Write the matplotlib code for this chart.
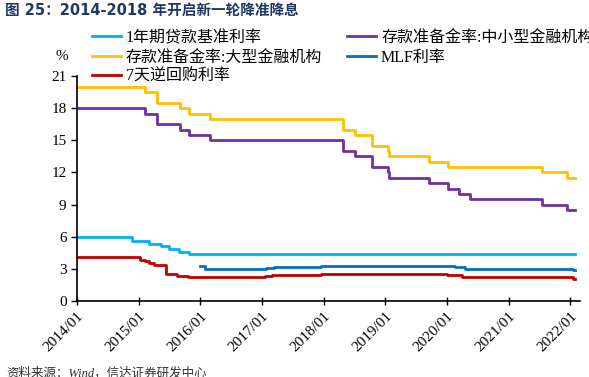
import numpy as np
import pandas as pd
import matplotlib
matplotlib.use("Agg")
import matplotlib.pyplot as plt
import matplotlib.dates as mdates

plt.rcParams['font.family'] = ['Liberation Serif', 'Noto Sans CJK SC']
plt.rcParams['axes.unicode_minus'] = False

END = "2022-02-01"

loan_dates = ["2014-01-01", "2014-11-22", "2015-03-01", "2015-05-11", "2015-06-28",
              "2015-08-26", "2015-10-24", END]
loan_vals = [6.00, 5.60, 5.35, 5.10, 4.85, 4.60, 4.35, 4.35]

big_dates = ["2014-01-01", "2015-02-05", "2015-04-20", "2015-09-06", "2015-10-24",
             "2016-03-01", "2018-04-25", "2018-07-05", "2018-10-15", "2019-01-15",
             "2019-01-25", "2019-09-16", "2020-01-06", "2021-07-15", "2021-12-15", END]
big_vals = [20.0, 19.5, 18.5, 18.0, 17.5, 17.0, 16.0, 15.5, 14.5, 14.0,
            13.5, 13.0, 12.5, 12.0, 11.5, 11.5]

small_dates = ["2014-01-01", "2015-02-05", "2015-04-20", "2015-09-06", "2015-10-24",
               "2016-03-01", "2018-04-25", "2018-07-05", "2018-10-15", "2019-01-15",
               "2019-01-25", "2019-09-16", "2020-01-06", "2020-03-16", "2020-05-15",
               "2021-07-15", "2021-12-15", END]
small_vals = [18.0, 17.5, 16.5, 16.0, 15.5, 15.0, 14.0, 13.5, 12.5, 12.0,
              11.5, 11.0, 10.5, 10.0, 9.5, 9.0, 8.5, 8.5]

repo_dates = ["2014-01-01", "2015-01-10", "2015-02-10", "2015-03-05", "2015-04-01",
              "2015-06-10", "2015-08-15", "2015-10-20", "2017-01-20", "2017-03-01",
              "2017-12-15", "2018-03-05", "2019-11-18", "2020-01-05", "2020-03-30",
              "2022-01-17", END]
repo_vals = [4.10, 3.85, 3.75, 3.55, 3.35, 2.50, 2.35, 2.25, 2.35, 2.45,
             2.50, 2.55, 2.50, 2.40, 2.20, 2.10, 2.10]

mlf_dates = ["2016-01-01", "2016-02-01", "2017-01-24", "2017-03-16", "2017-12-14",
             "2018-03-22", "2019-11-05", "2020-02-17", "2020-04-15", "2022-01-17", END]
mlf_vals = [3.25, 3.00, 3.10, 3.20, 3.25, 3.30, 3.25, 3.15, 2.95, 2.85, 2.85]

series = [
    ("1年期贷款基准利率", loan_dates, loan_vals, "#00B0F0"),
    ("存款准备金率:大型金融机构", big_dates, big_vals, "#FFC000"),
    ("7天逆回购利率", repo_dates, repo_vals, "#C00000"),
    ("存款准备金率:中小型金融机构", small_dates, small_vals, "#7030A0"),
    ("MLF利率", mlf_dates, mlf_vals, "#0070C0"),
]

fig = plt.figure(figsize=(5.89, 3.77), dpi=100)
ax = fig.add_axes([77 / 589, 1 - 301 / 377, (580 - 77) / 589, (301 - 76) / 377])

handles = []
for name, d, v, c in series:
    ln, = ax.plot(pd.to_datetime(d), v, color=c, lw=2.0, drawstyle="steps-post", label=name)
    handles.append(ln)

ax.set_ylim(0, 21)
ax.set_yticks(np.arange(0, 22, 3))
ax.set_xlim(pd.Timestamp("2014-01-01"), pd.Timestamp("2022-02-28"))
ax.xaxis.set_major_locator(mdates.YearLocator())
ax.xaxis.set_major_formatter(mdates.DateFormatter("%Y/%m"))
for lab in ax.get_xticklabels():
    lab.set_rotation(45)
    lab.set_ha("right")
    lab.set_rotation_mode("anchor")
ax.tick_params(axis="both", labelsize=11, width=1, length=4, direction="out", color="black")
ax.tick_params(axis="x", direction="inout", length=6)
ax.spines["top"].set_visible(False)
ax.spines["right"].set_visible(False)
for s in ("left", "bottom"):
    ax.spines[s].set_linewidth(1.2)

fig.text(62 / 589, 1 - 56 / 377, "%", fontsize=11, ha="center", va="center")

# legend runs off the right edge, as in the source image
fig.legend(handles=handles, loc="upper left", bbox_to_anchor=(92 / 589, 1 - 30 / 377),
           ncol=2, frameon=False, fontsize=11.5, handlelength=1.8, handletextpad=0.3,
           labelspacing=0.22, columnspacing=1.6, borderaxespad=0, borderpad=0)

fig.text(5 / 589, 1 - 10 / 377, "图 25：2014-2018 年开启新一轮降准降息", fontsize=10.5,
         fontweight="bold", color="#1F3864", va="center", ha="left",
         family=["DejaVu Sans", "Noto Sans CJK SC"])
fig.text(6 / 589, 1 - 367 / 377, "资料来源：Wind，信达证券研发中心", fontsize=9,
         color="#333333", va="top", ha="left", style="italic")

fig.savefig("out.png", dpi=100)
